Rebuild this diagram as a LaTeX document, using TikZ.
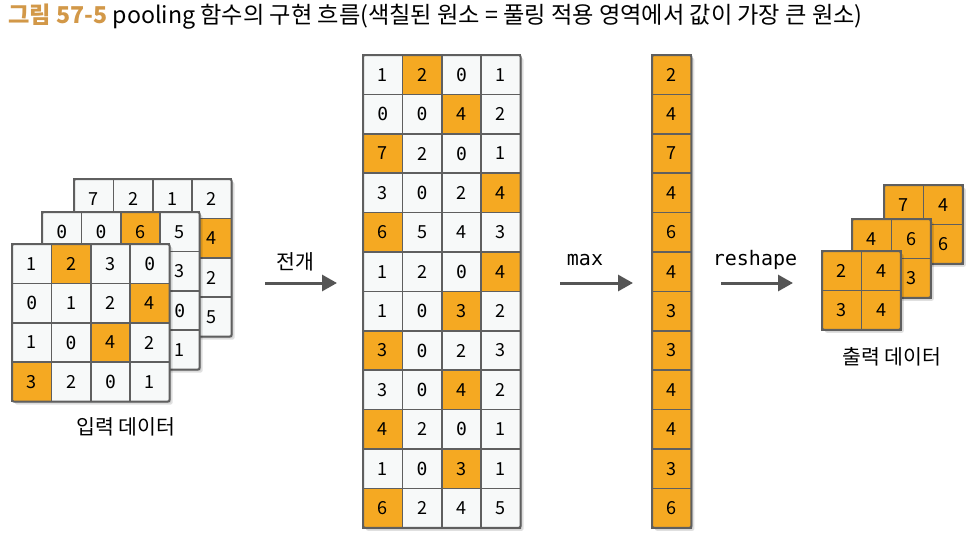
\documentclass[tikz,border=0pt]{standalone}
\usepackage{fontspec}
\usetikzlibrary{arrows.meta}
\newfontfamily\kr{Noto Sans CJK KR}
\newfontfamily\zr{DejaVu Sans Mono}

\definecolor{hl}{RGB}{245,169,34}
\definecolor{cellbg}{RGB}{247,249,249}
\definecolor{lineg}{RGB}{95,95,95}
\definecolor{titlec}{RGB}{210,152,72}
\definecolor{arrg}{RGB}{85,85,85}

\def\cs{39.4}

% #1 name, #2 x, #3 y, #4 cols, #5 rows, #6 value/highlight list (-1 = covered)
\newcommand{\mgrid}[6]{%
  \fill[black, opacity=.12, rounded corners=2pt] (#2+3,#3+3) rectangle ++(#4*\cs,#5*\cs);
  \fill[black, opacity=.12, rounded corners=2pt] (#2+1.5,#3+1.5) rectangle ++(#4*\cs,#5*\cs);
  \foreach \v/\o [count=\i from 0] in {#6} {
    \pgfmathtruncatemacro{\cc}{mod(\i,#4)}
    \pgfmathtruncatemacro{\rr}{div(\i,#4)}
    \ifnum\o=1 \def\cf{hl}\else\def\cf{cellbg}\fi
    \node[cell, fill=\cf] (#1-\rr-\cc) at (#2+\cc*\cs+\cs/2, #3+\rr*\cs+\cs/2)
      {\ifnum\v<0 \else\ifnum\v=0 {\zr 0}\else\v\fi\fi};
  }
  \draw[lineg, line width=2pt, rounded corners=2pt] (#2,#3) rectangle ++(#4*\cs,#5*\cs);
}

\begin{document}
\begin{tikzpicture}[x=1pt, y=-1pt,
    cell/.style={draw=lineg, line width=1.6pt, minimum size=\cs pt, inner sep=0pt,
      font=\kr\fontsize{18}{18}\selectfont},
    arr/.style={arrg, line width=3pt, -{Triangle[length=15pt, width=16pt]}},
    lbl/.style={font=\kr\fontsize{20.5}{24}\selectfont, inner sep=0pt},
    code/.style={font=\zr\fontsize{20}{24}\selectfont, inner sep=0pt, anchor=base}]
    \useasboundingbox (0,0) rectangle (974,536);

    \node[anchor=base west, inner sep=0pt, font=\kr\fontsize{23.2}{26}\selectfont] (title) at (8,23)
        {\textcolor{titlec}{\textbf{그림 57-5}} pooling 함수의 구현 흐름(색칠된 원소 = 풀링 적용 영역에서 값이 가장 큰 원소)};

    % input data
    \mgrid{inc}{74}{179}{4}{4}{7/0,2/0,1/0,2/0, -1/0,-1/0,-1/0,4/1, -1/0,-1/0,-1/0,2/0, -1/0,-1/0,-1/0,5/0}
    \mgrid{inb}{42}{212}{4}{4}{0/0,0/0,6/1,5/0, -1/1,-1/0,-1/0,3/0, -1/1,-1/0,-1/0,0/0, -1/0,-1/0,-1/1,1/0}
    \mgrid{ina}{12}{244}{4}{4}{1/0,2/1,3/0,0/0, 0/0,1/0,2/0,4/1, 1/0,0/0,4/1,2/0, 3/1,2/0,0/0,1/0}
    \node[lbl] (inlabel) at (126,427) {입력 데이터};

    % expanded
    \mgrid{col}{363}{55}{4}{12}{1/0,2/1,0/0,1/0, 0/0,0/0,4/1,2/0, 7/1,2/0,0/0,1/0, 3/0,0/0,2/0,4/1,
        6/1,5/0,4/0,3/0, 1/0,2/0,0/0,4/1, 1/0,0/0,3/1,2/0, 3/1,0/0,2/0,3/0,
        3/0,0/0,4/1,2/0, 4/1,2/0,0/0,1/0, 1/0,0/0,3/1,1/0, 6/1,2/0,4/0,5/0}

    % max
    \mgrid{mx}{652}{55}{1}{12}{2/1,4/1,7/1,4/1,6/1,4/1,3/1,3/1,4/1,4/1,3/1,6/1}

    % output data
    \mgrid{outc}{884}{185}{2}{2}{7/1,4/1,-1/1,6/1}
    \mgrid{outb}{852}{219}{2}{2}{4/1,6/1,-1/1,3/1}
    \mgrid{outa}{822}{251}{2}{2}{2/1,4/1,3/1,4/1}
    \node[lbl] (outlabel) at (892,357) {출력 데이터};

    \coordinate (s1) at (265,283);
    \coordinate (e1) at (337,283);
    \coordinate (s2) at (560,283);
    \coordinate (e2) at (633,283);
    \coordinate (s3) at (721,283);
    \coordinate (e3) at (793,283);
    \draw[arr] (s1) -- (e1);
    \draw[arr] (s2) -- (e2);
    \draw[arr] (s3) -- (e3);
    \node[lbl] (spread) at (295,262) {전개};
    \node[code] (maxlbl) at (585,265) {max};
    \node[code] (reshape) at (755,265) {reshape};
\end{tikzpicture}
\end{document}
